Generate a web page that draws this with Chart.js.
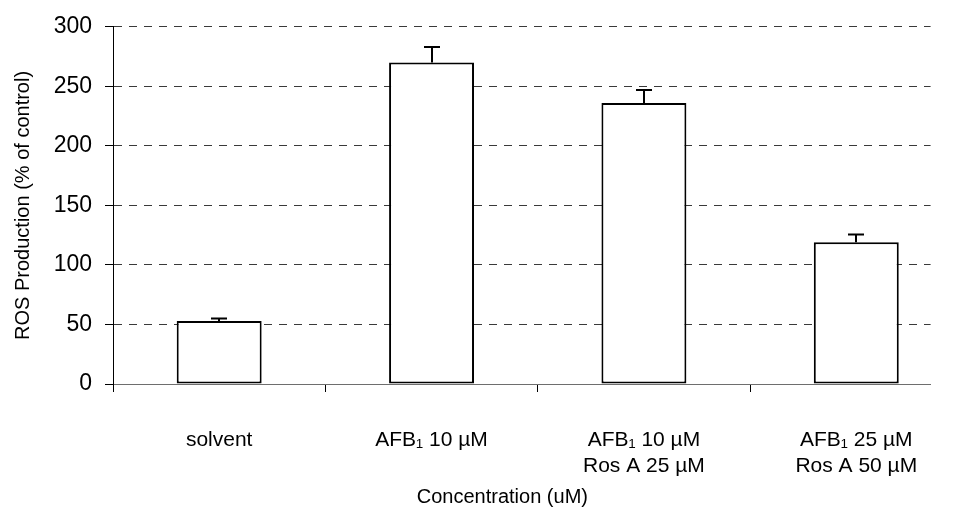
<!DOCTYPE html>
<html>
<head>
<meta charset="utf-8">
<script src="https://cdn.jsdelivr.net/npm/chart.js@4/dist/chart.umd.min.js"></script>
<style>
  html, body { margin: 0; padding: 0; background: #ffffff; }
  #wrap { width: 955px; height: 510px; }
</style>
</head>
<body>
<div id="wrap"><canvas id="c" width="955" height="510"></canvas></div>
<script>
// ---- data ----
const categories = [
  ['solvent'],
  ['AFB\u2081 10 \u00b5M'],
  ['AFB\u2081 10 \u00b5M', 'Ros A 25 \u00b5M'],
  ['AFB\u2081 25 \u00b5M', 'Ros A 50 \u00b5M']
];
const rosValues = [53, 270, 236, 119];
const rosErrors = [2, 13, 11, 6.5];
const yTicks = [0, 50, 100, 150, 200, 250, 300];
const yTitle = 'ROS Production (% of control)';
const xTitle = 'Concentration (uM)';

const FONT = "'Liberation Sans', Arial, Helvetica, sans-serif";

// category boundaries (tick marks) and centres (labels)
const xTickValues = [];
categories.forEach((c, i) => { xTickValues.push(i - 0.5); xTickValues.push(i); });

const errorBarPlugin = {
  id: 'errorBars',
  afterDatasetsDraw(chart) {
    const ctx = chart.ctx;
    const yScale = chart.scales.y;
    const meta = chart.getDatasetMeta(0);
    ctx.save();
    ctx.strokeStyle = '#000';
    ctx.lineWidth = 2;
    meta.data.forEach((bar, i) => {
      const topPx = yScale.getPixelForValue(rosValues[i] + rosErrors[i]);
      const basePx = yScale.getPixelForValue(rosValues[i]);
      const x = Math.round(bar.x);
      ctx.beginPath();
      ctx.moveTo(x, basePx);
      ctx.lineTo(x, topPx);
      ctx.moveTo(x - 8, topPx);
      ctx.lineTo(x + 8, topPx);
      ctx.stroke();
    });
    ctx.restore();
  }
};

new Chart(document.getElementById('c'), {
  type: 'bar',
  data: {
    datasets: [{
      data: rosValues.map((v, i) => ({ x: i, y: v })),
      backgroundColor: '#ffffff',
      borderColor: '#000000',
      borderWidth: 2,
      borderSkipped: false,
      categoryPercentage: 1.0,
      barPercentage: 0.8
    }]
  },
  options: {
    responsive: false,
    animation: false,
    events: [],
    layout: { padding: { top: 24, right: 20, left: 0, bottom: 0 } },
    plugins: { legend: { display: false }, tooltip: { enabled: false }, title: { display: false } },
    scales: {
      x: {
        type: 'linear',
        offset: false,
        min: -0.5,
        max: 3.35,
        afterBuildTicks(scale) {
          scale.ticks = xTickValues.map(v => ({ value: v }));
        },
        afterFit(scale) { scale.height = 126; },
        grid: {
          offset: false,
          drawOnChartArea: false,
          drawTicks: true,
          tickLength: 8,
          tickWidth: 1,
          tickColor: (ctx) => (ctx.tick && Number.isInteger(ctx.tick.value)) ? 'rgba(0,0,0,0)' : '#000000'
        },
        border: { display: true, color: '#6e6e6e', width: 1 },
        ticks: {
          autoSkip: false,
          maxRotation: 0,
          minRotation: 0,
          padding: 36,
          color: '#000000',
          font: { family: FONT, size: 21, lineHeight: 1.2 },
          callback: (value) => Number.isInteger(value) && categories[value] ? categories[value] : ''
        },
        title: {
          display: true,
          text: xTitle + '       ',
          color: '#000000',
          font: { family: FONT, size: 20, lineHeight: 1.2 },
          padding: { top: 0, bottom: 1 }
        }
      },
      y: {
        min: 0,
        max: 300,
        afterBuildTicks(scale) {
          scale.ticks = yTicks.map(v => ({ value: v }));
        },
        afterFit(scale) { scale.width = 113; },
        grid: {
          color: '#3a3a3a',
          lineWidth: 1,
          drawTicks: true,
          tickLength: 8,
          tickColor: '#000000',
          tickBorderDash: []
        },
        border: { display: true, color: '#000000', width: 1, dash: [8, 7] },
        ticks: {
          padding: 13,
          color: '#000000',
          font: { family: FONT, size: 23 }
        },
        title: {
          display: true,
          text: yTitle,
          color: '#000000',
          font: { family: FONT, size: 20, lineHeight: 1.2 },
          padding: { top: 11, bottom: 0 }
        }
      }
    }
  },
  plugins: [errorBarPlugin]
});
</script>
</body>
</html>
